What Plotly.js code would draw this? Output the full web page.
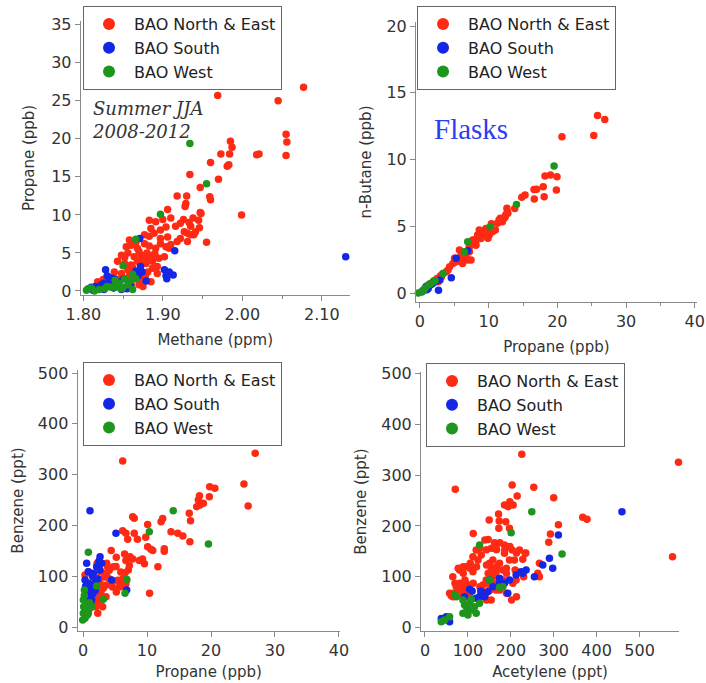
<!DOCTYPE html>
<html><head><meta charset="utf-8">
<script src="https://cdn.plot.ly/plotly-3.0.1.min.js"></script>
<style>html,body{margin:0;padding:0;background:#fff}#chart{width:706px;height:683px}</style>
</head><body><div id="chart"></div>
<script>
// ---- series ----
const seriesNames = ["BAO North & East", "BAO South", "BAO West"];
const seriesColors = ["#ff2a14", "#1426e6", "#1e961e"];

// ---- axis titles ----
const xTitles = ["Methane (ppm)", "Propane (ppb)", "Propane (ppb)", "Acetylene (ppt)"];
const yTitles = ["Propane (ppb)", "n-Butane (ppb)", "Benzene (ppt)", "Benzene (ppt)"];

// ---- Panel 1: Methane (ppm) vs Propane (ppb) ----
const p1NorthEast = [[1.969,25.7],[2.077,26.8],[2.045,25.0],[2.055,20.6],[2.056,19.6],[2.055,17.8],[2.018,17.9],[2.021,18.0],
[1.987,18.9],[1.985,19.7],[1.973,18.0],[1.984,18.0],[1.960,16.9],[1.983,16.6],[1.981,16.4],[1.934,15.3],[1.947,13.6],[1.959,12.4],[1.960,12.0],[1.918,12.5],[1.930,12.5],[1.929,11.5],[1.928,11.1],[1.906,10.7],[1.910,9.6],[1.926,9.4],[1.938,9.6],[1.947,10.3],[1.999,10.0],[1.955,6.4],[1.970,14.7],
[1.883,9.3],[1.891,9.1],[1.900,9.4],[1.885,8.2],[1.897,8.0],[1.904,8.4],
[1.858,6.7],[1.877,7.4],[1.883,7.2],[1.889,7.6],[1.897,6.9],
[1.854,5.8],[1.860,6.0],[1.868,5.6],[1.877,6.2],[1.883,5.9],[1.891,5.6],[1.897,6.2],[1.904,5.8],[1.910,6.1],
[1.848,4.7],[1.856,5.0],[1.864,4.5],[1.873,4.7],[1.881,4.3],[1.887,4.7],[1.895,4.3],[1.902,4.5],
[1.843,3.9],[1.852,3.6],[1.860,3.4],[1.868,3.9],[1.879,3.6],[1.887,3.9],[1.893,3.2],
[1.839,2.5],[1.848,2.3],[1.856,2.8],[1.864,2.5],[1.881,2.5],[1.887,3.0],[1.893,2.3],
[1.835,1.2],[1.843,1.5],[1.860,1.0],[1.870,0.8],[1.885,1.2],[1.875,0.6],
[1.922,8.9],[1.935,8.5],[1.941,7.8],[1.922,6.9],[1.931,6.5],[1.939,7.4],[1.908,5.6],[1.918,6.5],[1.916,8.5],[1.927,7.8],[1.931,7.6],[1.906,7.1],[1.945,9.3],
[1.818,1.2],[1.825,1.5],[1.830,0.8],[1.933,9.0],[1.946,8.3],[1.935,7.4],[1.948,10.2],
[1.870,5.2],[1.875,4.0],[1.862,3.1],[1.872,3.4],[1.880,5.0],[1.890,4.9],[1.866,6.4],[1.852,4.4],[1.878,2.0],[1.872,1.5],[1.858,2.0]];
const p1South = [[2.130,4.5],[1.915,5.3],[1.828,2.8],[1.870,2.3],[1.872,2.8],[1.872,3.2],[1.869,2.0],[1.902,2.8],[1.908,2.5],[1.913,2.1],[1.904,2.0],[1.905,1.6],[1.879,1.3],[1.815,0.6],[1.823,0.8],[1.833,1.3],[1.839,1.6],[1.843,0.8],[1.812,0.1],[1.860,0.6],[1.851,1.6],[1.871,6.9],[1.820,0.3],[1.826,1.0],[1.845,1.2],[1.838,0.4],[1.866,2.6],[1.874,2.5],[1.830,2.0],[1.835,1.7],[1.855,0.3],[1.848,0.2],[1.810,0.5],[1.826,0.2]];
const p1West = [[1.934,19.4],[1.955,14.1],[1.897,10.1],[1.866,6.8],[1.850,3.3],[1.852,1.6],[1.858,1.3],[1.850,0.5],[1.841,0.5],[1.835,0.5],[1.827,0.3],[1.820,0.2],[1.806,0.3],[1.804,0.1],[1.814,0.0],[1.866,1.6],[1.856,0.8],[1.845,1.0],[1.862,2.2],[1.830,0.6],[1.840,1.4],[1.848,0.3],[1.862,0.2],[1.810,0.4]];

// ---- Panel 2: Propane (ppb) vs n-Butane (ppb) ----
const p2NorthEast = [[25.85,13.3],[26.9,13.0],[25.3,11.8],[20.67,11.7],[18.2,8.77],[19.0,8.84],[19.95,8.72],[19.86,7.72],[16.6,7.76],[16.98,7.77],[17.94,7.97],[18.08,7.22],[16.64,7.04],[14.82,7.17],[15.3,7.34],[13.8,6.34],[12.66,6.35],[12.8,5.97],[11.7,5.6],[12.4,5.7],[12.47,5.84],[12.71,6.09],[12.23,5.59],[11.99,5.34],
[10.55,4.59],[9.83,4.59],[9.35,4.34],[8.87,4.09],[8.39,4.34],[7.91,3.97],[7.43,3.72],[8.15,3.59],[7.19,3.09],[6.71,2.72],[6.23,2.47],[5.75,2.47],[5.27,2.34],[4.79,2.22],[4.32,1.97],[3.84,1.6],[3.36,1.47],[3.12,1.22],[2.88,0.97],[2.64,0.85],[2.16,0.85],[5.75,3.22],[6.23,2.97],[7.67,3.97],[8.63,4.72],[9.59,4.84],[6.95,2.47],[7.43,2.47],[6.47,2.84],[11.27,5.22],[11.51,5.47],[10.07,4.34],[9.11,4.59],[7.19,3.47],[6.0,2.84],[5.03,2.6],[4.08,1.72],[1.5,0.7],[2.0,0.9],[1.2,0.5],[3.0,1.3],[2.5,1.1],[10.4,5.2],[9.9,4.1],[8.1,3.8],[10.98,4.72],[6.19,2.22]];
const p2South = [[5.27,2.6],[6.95,3.17],[4.56,1.15],[2.7,0.22],[2.88,0.97],[1.2,0.35],[0.48,0.22],[0.9,0.5],[1.5,0.6],[0.7,0.3],[0.3,0.1],[1.8,0.7],[2.2,0.85],[1.0,0.25]];
const p2West = [[19.52,9.51],[14.05,6.64],[10.21,4.97],[6.95,3.84],[6.47,3.09],[3.36,1.47],[1.92,0.85],[1.2,0.6],[0.72,0.35],[0.24,0.1],[-0.24,0.0],[0.5,0.2],[1.5,0.7],[2.2,0.95]];

// ---- Panel 3: Propane (ppb) vs Benzene (ppt) ----
const p3NorthEast = [[26.9,341.9],[6.2,326.8],[25.15,281.5],[25.8,238.2],[19.8,276.3],[20.6,273],[19.74,256.6],[18.2,258.6],[18.02,250],[18.28,240],[18.8,243.5],[17.76,236.9],[16.6,223.8],[16.8,209.3],[16.7,168],[13.75,187.7],[14.8,184.4],[15.6,179],[12.2,207],[12.45,213.8],[12.7,154.3],[12.7,149],[10.1,202],[10.6,153],[10.9,150.4],[10.1,158.2],[11.7,118.8],[10.4,66.3],
[7.76,217],[8.0,214],[6.2,189.7],[6.7,184.4],[6.98,172.6],[8.0,184.4],[8.5,172.6],[9.8,176.5],
[4.4,150.4],[5.2,137.3],[6.5,143.9],[6.7,130.8],[7.76,134],[8.8,130.8],[9.3,134],[9.6,124.3],
[7.24,121],[5.16,119],[3.85,118],[3.33,98.4],[4.1,95],[4.6,88.6],[5.4,91.9],[6.2,95],[3.6,82],[4.6,78.7],[5.7,78.7],[6.7,85],[2.8,66],[3.6,59.7],[2.55,49.9],[2.03,40],[3.07,40],[2.3,27],[4.1,111.5],[5.9,108.3],[6.5,78.7],[5.2,69],
[2.66,108.9],[3.7,107],[1.61,92.5],[2.66,86],[1.09,73],[2.13,73],[3.17,76.1],[1.61,56.5],[2.66,59.7],[1.61,46.6],[0.83,27],[1.09,36.8],[0.31,102.4],[0.83,108.9],[7.34,138.5],[2.2,125],[3.7,125.4],[4.74,118.8],[6.56,107],[7.08,112.2],[5.78,86],[6.82,92.5]];
const p3South = [[1.09,229],[5.15,184.4],[2.66,138.5],[2.92,125.4],[2.13,118.8],[2.66,112.2],[0.83,108.9],[1.61,105.6],[0.31,92.5],[0.57,72.9],[1.09,59.7],[0.57,46.6],[1.35,53.2],[1.87,86],[0.83,86],[4.48,92.5],[6.82,72.9],[0.57,125.4],[1.2,79.4],[1.61,66.3],[0.67,40.1],[0.31,56.5],[1.5,100],[2.3,95],[0.9,65],[1.9,72],[0.4,80],[2.5,130]];
const p3West = [[0.83,147],[14.1,229],[10.36,187.7],[19.6,163.4],[6.82,93.8],[6.56,66.3],[3.17,54.5],[2.13,80.7],[0.21,72.9],[0.47,40.1],[0.05,27],[0.31,17.1],[0.83,33.5],[1.35,40.1],[0.05,53.2],[-0.05,13.8],[0.68,23.7],[0.2,62],[1.0,48],[0.5,32],[0.1,40]];

// ---- Panel 4: Acetylene (ppt) vs Benzene (ppt) ----
const p4NorthEast = [[225.6,340.9],[590.7,325.2],[70.6,272],[203.1,280.5],[214.8,259],[253.5,276],[300,255.6],[367.5,216.9],[377.6,213],[576.8,139.5],[310.9,202.5],[292.3,184],[288.4,167.7],[266.7,126.4],[262.8,106.7],[266.7,100.1],[185.3,241.2],[197.7,247.8],[205.4,241.2],[193.8,238],[171.4,223.5],[188.4,208.3],[196.9,195.2],[149.6,211.6],[172.9,209.6],[172.1,195.2],[112.4,185.3],[139.5,172.2],[147.3,173.5],[174.4,166.9],[162.1,167.1],[185.3,162.5],[193,159.2],[203.1,152.6],[220.2,152.6],[233.4,146],[127.9,156.3],[143.4,153],[155,156.3],[166.7,153],[186,153],[197.7,159.6],[213.2,146.5],[234.9,146.5],
[119.4,152.6],[131.1,142.8],[165.9,155.9],[111.7,139.5],[105.5,126.4],[123.4,133],[150.4,126.4],[158.2,133],[173.7,126.4],[185.3,146],[196.9,133],[208.5,133],[227.9,134.2],[210.1,113.2],[80.7,113.2],[96.2,119.8],[64.8,100.1],[80.7,87],[96.2,87],[72.9,80.4],[57.4,67.3],[65.2,60.7],[111.7,109.9],[142.7,93.5],[158.2,100.1],[165.9,109.9],[181.4,113.2],[134.9,83.7],[150.4,73.9],[165.9,73.9],[103.9,67.3],[131,67.3],[204.7,87],[212.4,93.5],[61.3,62.7],[154.3,54.2],[88.4,60.7],[90,75],[140,60],[175,95],[230,100],
[77.5,116.5],[89.1,119.8],[104.6,116.5],[120.2,119.8],[143.4,123.1],[155,116.5],[166.7,119.8],[189.9,116.5],[69.8,87],[81.4,80.4],[77.5,67.3],[93,93.5],[100.8,80.4],[112.4,87],[127.9,80.4],[143.4,87],[151.2,93.5],[166.7,87],[182.2,93.5],[89.1,106.7],[147.3,106.7],[162.8,106.7],[189.9,106.7],[65.9,67.3],[96.9,70.6],[135.7,70.6],[151.2,73.9],[104.6,60.7],[131.8,60.7],[174.4,73.9],[189.9,67.3],[201.6,54.2],[213.2,60.7],[143.4,54.2]];
const p4South = [[459,228],[310.9,182.1],[290,136.2],[297.7,116.5],[274.5,123],[235.7,113.2],[224,110],[212.4,103.4],[197,93.5],[185.3,87],[173.7,87],[158.2,80.4],[146.6,70.6],[193,67.3],[173.7,96.8],[150.4,93.5],[138.9,60.7],[103.9,75.2],[92.3,60.7],[119.4,57.4],[127.2,60.7],[41.9,14.8],[57.4,11.5],[49.6,21.4],[38,18],[255,100.1],[228,106.7],[110,72],[130,72]];
const p4West = [[248.9,228],[200.8,186.7],[127.2,162.5],[319.4,144.8],[150.4,93.5],[173.7,79.1],[181.4,80.4],[69,65.3],[88.4,54.2],[96.2,41.1],[100.1,34.5],[103.9,47.6],[115.5,41.1],[111.6,34.5],[100.1,24.7],[88.4,27.9],[38,11.5],[45.8,14.8],[57.4,21.4],[72.9,60.7],[127.2,47.6],[119.4,28],[108,55],[92,45]];

const panelSeries = [
  [p1NorthEast, p1South, p1West],
  [p2NorthEast, p2South, p2West],
  [p3NorthEast, p3South, p3West],
  [p4NorthEast, p4South, p4West]
];

// ---- build traces ----
const traces = [];
panelSeries.forEach((series, p) => {
  const sfx = p === 0 ? '' : String(p + 1);
  series.forEach((pts, s) => {
    traces.push({
      type: 'scatter', mode: 'markers',
      x: pts.map(d => d[0]), y: pts.map(d => d[1]),
      name: seriesNames[s],
      xaxis: 'x' + sfx, yaxis: 'y' + sfx,
      legend: 'legend' + sfx,
      cliponaxis: false,
      marker: {color: seriesColors[s], size: 7.5, line: {width: 0}}
    });
  });
});

const tickFont = {family: 'DejaVu Sans', size: 16, color: '#333'};
const titleFont = {family: 'DejaVu Sans', size: 15, color: '#333'};
function ax(o) {
  return Object.assign({
    showline: true, linecolor: '#8a8a8a', linewidth: 1,
    showgrid: false, zeroline: false,
    ticks: 'outside', ticklen: 5, tickcolor: '#8a8a8a', tickwidth: 1,
    tickfont: tickFont, fixedrange: true, ticklabeloverflow: 'allow'
  }, o);
}
function leg(x, y) {
  return {x: x, y: y, xanchor: 'left', yanchor: 'top',
    bgcolor: '#fff', bordercolor: '#666', borderwidth: 1,
    itemsizing: 'constant', itemwidth: 40,
    font: {family: 'DejaVu Sans', size: 16, color: '#222'}};
}

const layout = {
  width: 706, height: 683,
  margin: {l: 0, r: 0, t: 0, b: 0},
  paper_bgcolor: '#fff', plot_bgcolor: '#fff',
  showlegend: true,
  xaxis: ax({domain: [0.1143, 0.4953], range: [1.7967, 2.135], tick0: 1.8, dtick: 0.1, tickformat: '.2f',
    minor: {dtick: 0.05, ticks: 'outside', ticklen: 3, tickcolor: '#8a8a8a'},
    anchor: 'y', title: {text: xTitles[0], font: titleFont, standoff: 11}}),
  yaxis: ax({domain: [0.5681, 0.9693], range: [-0.53, 35.5], dtick: 5, anchor: 'x',
    title: {text: yTitles[0], font: titleFont, standoff: 12}}),
  xaxis2: ax({domain: [0.5892, 0.9870], range: [-0.58, 40.3], dtick: 10,
    minor: {dtick: 5, ticks: 'outside', ticklen: 3, tickcolor: '#8a8a8a'},
    anchor: 'y2', title: {text: xTitles[1], font: titleFont, standoff: 11}}),
  yaxis2: ax({domain: [0.5578, 0.9678], range: [-0.67, 20.3], dtick: 5, anchor: 'x2',
    title: {text: yTitles[1], font: titleFont, standoff: 11}}),
  xaxis3: ax({domain: [0.1098, 0.4816], range: [-0.86, 40.16], dtick: 10,
    anchor: 'y3', title: {text: xTitles[2], font: titleFont, standoff: 7}}),
  yaxis3: ax({domain: [0.0761, 0.4583], range: [-7.9, 506], dtick: 100, anchor: 'x3',
    title: {text: yTitles[2], font: titleFont, standoff: 10}}),
  xaxis4: ax({domain: [0.5963, 0.9618], range: [-9.3, 592], dtick: 100,
    anchor: 'y4', title: {text: xTitles[3], font: titleFont, standoff: 7}}),
  yaxis4: ax({domain: [0.0761, 0.4553], range: [-6.9, 503], dtick: 100, anchor: 'x4',
    title: {text: yTitles[3], font: titleFont, standoff: 10}}),
  legend: leg(0.1176, 0.9912),
  legend2: leg(0.5907, 0.9912),
  legend3: leg(0.1176, 0.4700),
  legend4: leg(0.6034, 0.4685),
  annotations: [
    {xref: 'paper', yref: 'paper', x: 90/706, y: 1 - 96/683, xanchor: 'left', yanchor: 'top', align: 'left',
     showarrow: false, text: 'Summer JJA<br>2008-2012',
     font: {family: 'DejaVu Serif', size: 18, color: '#333', style: 'italic'}},
    {xref: 'paper', yref: 'paper', x: 471/706, y: 1 - 129/683, xanchor: 'center', yanchor: 'middle',
     showarrow: false, text: 'Flasks',
     font: {family: 'Liberation Serif', size: 29, color: '#2b3ff0'}}
  ]
};

Plotly.newPlot('chart', traces, layout, {displayModeBar: false, staticPlot: true});
</script>
</body></html>
